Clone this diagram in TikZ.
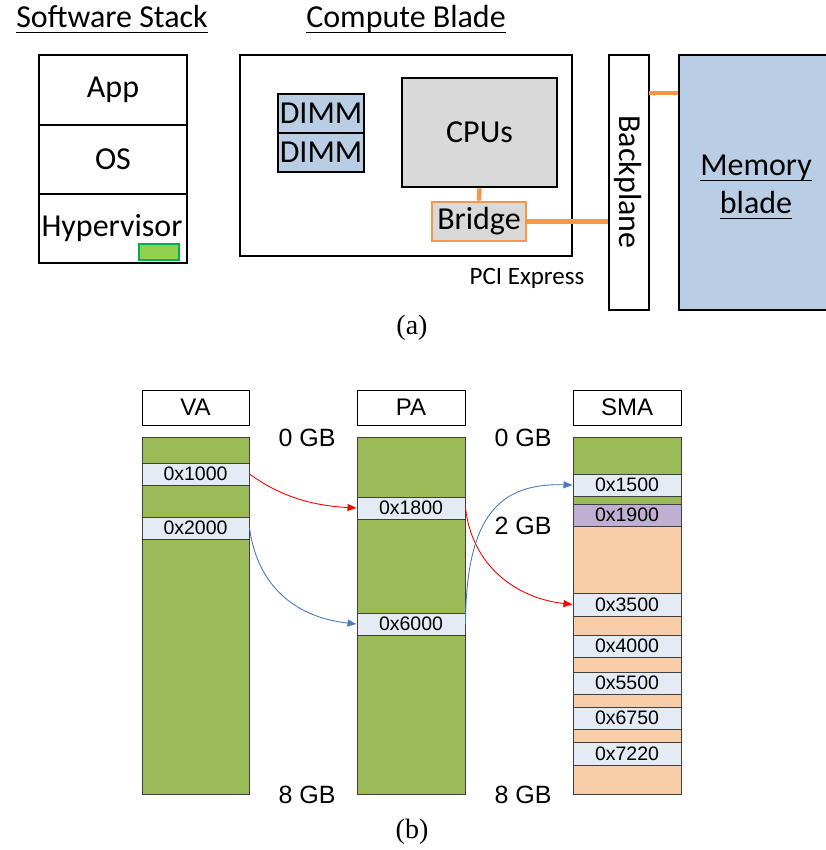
\documentclass[tikz,border=0pt]{standalone}
\usepackage{fontspec}
\setmainfont{Carlito}
\newfontfamily\arialf{Liberation Sans}
\newfontfamily\serf{Liberation Serif}
\usetikzlibrary{arrows.meta}
\definecolor{dimmblue}{HTML}{B9CDE5}
\definecolor{cpugray}{HTML}{D9D9D9}
\definecolor{orng}{HTML}{F79646}
\definecolor{hgreen}{HTML}{92D050}
\definecolor{hgreenb}{HTML}{00B050}
\definecolor{colgreen}{HTML}{9BBB59}
\definecolor{cellblue}{HTML}{E4EBF5}
\definecolor{cellpurple}{HTML}{BFAFD2}
\definecolor{peach}{HTML}{F9CDA8}
\definecolor{cellborder}{HTML}{404040}
\definecolor{arrblue}{HTML}{4A7EBB}
\newcommand\rb[7]{\node[#2,minimum width={(#5-#3)*1pt},minimum height={(#6-#4)*1pt},inner sep=0pt] (#1) at ({(#3+#5)/2},{(#4+#6)/2}) {#7};}
\newcommand\ulnode[1]{\draw[line width=1.8pt] ([yshift=-4.5pt]#1.base west) -- ([yshift=-4.5pt]#1.base east);}
\tikzset{
  big/.style={font=\fontsize{32}{38}\selectfont},
  tbox/.style={draw=black,line width=2.8pt,big},
  hdr/.style={draw=black,line width=1pt,fill=white,font=\arialf\fontsize{24}{28}\selectfont},
  col/.style={draw=cellborder,line width=1pt},
  cell/.style={draw=cellborder,line width=1pt,fill=cellblue,font=\arialf\fontsize{19.5}{23}\selectfont},
  gb/.style={font=\arialf\fontsize{25}{29}\selectfont},
  conn/.style={orng,line width=4.5pt},
  redarr/.style={red,line width=0.9pt,-{Triangle[length=9pt,width=7pt]}},
  bluearr/.style={arrblue,line width=0.9pt,-{Triangle[length=9pt,width=7pt]}},
}
\begin{document}
\begin{tikzpicture}[x=1pt,y=-1pt]
\useasboundingbox (0,0) rectangle (825,850);
% ---------- (a) ----------
\node[big,anchor=base,inner sep=0pt] (sstitle) at (112,28) {Software Stack};
\node[big,anchor=base,inner sep=0pt] (cbtitle) at (406,28) {Compute Blade};
\ulnode{sstitle}
\ulnode{cbtitle}
\rb{app}{tbox}{39}{55}{187}{125}{App}
\rb{os}{tbox}{39}{125}{187}{194}{OS}
\rb{hyp}{tbox}{39}{194}{187}{263}{}
\node[big] (hyptext) at (112,228) {Hypervisor};
\rb{hypg}{draw=hgreenb,fill=hgreen,line width=1.8pt}{139}{244}{179}{260}{}
\rb{blade}{tbox}{240}{55}{572}{256}{}
\rb{dimm1}{tbox,fill=dimmblue}{278}{94}{364}{133}{DIMM}
\rb{dimm2}{tbox,fill=dimmblue}{278}{133}{364}{172}{DIMM}
\rb{cpu}{tbox,fill=cpugray}{402}{78}{557}{187}{CPUs}
\rb{bridge}{tbox,draw=orng,fill=cpugray}{432}{202}{526}{241}{Bridge}
\rb{bp}{tbox}{609}{55}{649}{310}{}
\node[big,rotate=-90] (bptext) at (628,182) {Backplane};
\rb{mem}{tbox,fill=dimmblue}{679}{55}{830}{310}{}
\node[big,anchor=base,inner sep=0pt] (memt1) at (756,176) {Memory};
\node[big,anchor=base,inner sep=0pt] (memt2) at (756,214) {blade};
\ulnode{memt1}
\ulnode{memt2}
\node[font=\fontsize{25}{30}\selectfont,anchor=base] (pci) at (527,284) {PCI Express};
\node[font=\serf\fontsize{28}{32}\selectfont] (capa) at (412,328) {(a)};
\draw[conn] (cpu.south) -- (bridge.north);
\draw[conn] (bridge.east) -- (bridge.east -| bp.west);
\coordinate (m1) at (649,93);
\draw[conn] (m1) -- (m1 -| mem.west);
% ---------- (b) ----------
\rb{vah}{hdr}{142}{390}{249}{425}{VA}
\rb{pah}{hdr}{357}{390}{465}{425}{PA}
\rb{smah}{hdr}{573}{390}{681}{425}{SMA}
\rb{vacol}{col,fill=colgreen}{142}{437}{249}{794}{}
\rb{pacol}{col,fill=colgreen}{357}{437}{465}{794}{}
\rb{smacol}{col,fill=peach}{573}{437}{681}{794}{}
\rb{smag1}{col,fill=colgreen}{573}{437}{681}{474}{}
\rb{smag2}{col,fill=colgreen}{573}{496}{681}{504}{}
\rb{v1}{cell}{142}{463}{249}{485}{0x1000}
\rb{v2}{cell}{142}{517}{249}{539}{0x2000}
\rb{p1}{cell}{357}{497}{465}{519}{0x1800}
\rb{p2}{cell}{357}{613}{465}{635}{0x6000}
\rb{s1}{cell}{573}{474}{681}{496}{0x1500}
\rb{s2}{cell,fill=cellpurple}{573}{504}{681}{526}{0x1900}
\rb{s3}{cell}{573}{593}{681}{616}{0x3500}
\rb{s4}{cell}{573}{635}{681}{657}{0x4000}
\rb{s5}{cell}{573}{672}{681}{694}{0x5500}
\rb{s6}{cell}{573}{707}{681}{729}{0x6750}
\rb{s7}{cell}{573}{742}{681}{765}{0x7220}
\node[gb] (gb0a) at (307,438) {0 GB};
\node[gb] (gb0b) at (523,438) {0 GB};
\node[gb] (gb2) at (523,526) {2 GB};
\node[gb] (gb8a) at (307,795) {8 GB};
\node[gb] (gb8b) at (523,795) {8 GB};
\node[font=\serf\fontsize{28}{32}\selectfont] (capb) at (412,832) {(b)};
\draw[redarr] (v1.east) .. controls (285,500) and (320,506) .. (p1.west);
\draw[bluearr] (v2.east) .. controls (258,590) and (300,618) .. (p2.west);
\draw[redarr] (p1.east) .. controls (472,565) and (515,598) .. (s3.west);
\draw[bluearr] (p2.east) .. controls (466,515) and (500,483) .. (s1.west);
\end{tikzpicture}
\end{document}
